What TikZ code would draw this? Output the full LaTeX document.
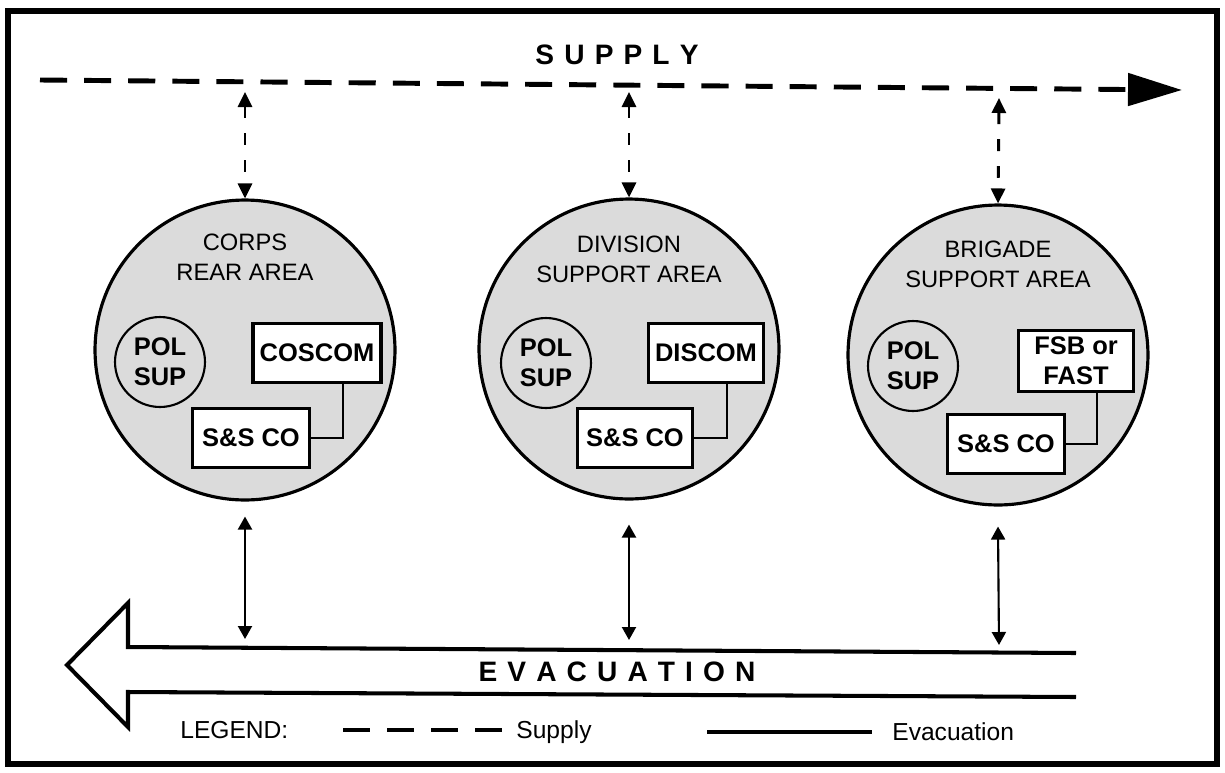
\documentclass[tikz,border=0pt]{standalone}
\usepackage{fontspec}
\setmainfont{Liberation Sans}
\usepackage{tikz}
\usetikzlibrary{arrows.meta}

\newcommand{\labfont}{\fontsize{13.5}{17}\selectfont}
\newcommand{\unitfont}{\fontsize{14.5}{17}\selectfont\bfseries}
\newcommand{\bannerfont}{\fontsize{16}{19}\selectfont\bfseries}
\newcommand{\legfont}{\fontsize{14}{17}\selectfont}
\newcommand{\gp}{\kern0.36em}

\begin{document}
\begin{tikzpicture}[x=0.02cm, y=-0.02cm,
  area/.style={circle, draw, line width=1.8pt, fill=black!14, minimum size=6cm, inner sep=0},
  pol/.style={circle, draw, line width=1.2pt, minimum size=1.8cm, inner sep=0, align=center, font=\unitfont},
  unitbox/.style={rectangle, draw, line width=1.8pt, fill=white, minimum width=2.34cm, minimum height=1.18cm, inner sep=0, align=center, font=\unitfont},
  lab/.style={align=center, inner sep=0, font=\labfont},
  supplink/.style={line width=1.7pt, dash pattern=on 6.8pt off 8.5pt, {Triangle[length=0.3cm,width=0.28cm]}-{Triangle[length=0.3cm,width=0.28cm]}},
  evaclink/.style={line width=1.2pt, {Triangle[length=0.26cm,width=0.28cm]}-{Triangle[length=0.26cm,width=0.28cm]}}]
\useasboundingbox (0,0) rectangle (1225,772);
\draw [line width=3pt] (8,11) rectangle (1217,764);

% supply
\node [inner sep=0, font=\bannerfont] (suptitle) at (617,55) {S\gp U\gp P\gp P\gp L\gp Y};
\coordinate (supstart) at (40,80);
\coordinate (supend) at (1182,90);
\draw [line width=2.8pt, dash pattern=on 15.4pt off 9.7pt, -{Triangle[length=1.08cm,width=0.64cm]}] (supstart) -- (supend);

% corps
\node [area] (corps) at (245,350) {};
\node [lab] (corpslab) at (245,257) {CORPS\\REAR AREA};
\node [pol] (pol1) at (160,362) {POL\\SUP};
\node [unitbox, minimum width=2.56cm] (coscom) at (317,353) {COSCOM};
\node [unitbox] (ss1) at (251,438) {S\&S CO};
\draw [line width=0.7pt] ([xshift=0.52cm]coscom.south) |- (ss1.east);

% division
\node [area] (division) at (629,349) {};
\node [lab] (divlab) at (629,259) {DIVISION\\SUPPORT AREA};
\node [pol] (pol2) at (546,363) {POL\\SUP};
\node [unitbox, minimum width=2.3cm] (discom) at (706,353) {DISCOM};
\node [unitbox, minimum width=2.3cm] (ss2) at (635,438) {S\&S CO};
\draw [line width=0.7pt] ([xshift=0.42cm]discom.south) |- (ss2.east);

% brigade
\node [area] (brigade) at (998,355) {};
\node [lab] (brigadelab) at (998,264) {BRIGADE\\SUPPORT AREA};
\node [pol] (pol3) at (913,366) {POL\\SUP};
\node [unitbox, minimum width=2.3cm, minimum height=1.22cm] (fsb) at (1076,361) {FSB or\\FAST};
\node [unitbox] (ss3) at (1006,444) {S\&S CO};
\draw [line width=0.7pt] ([xshift=0.42cm]fsb.south) |- (ss3.east);

% links to supply
\coordinate (s1) at (245,92);
\coordinate (s2) at (629,92);
\coordinate (s3) at (999,98);
\draw [supplink] (s1) -- (corps.north);
\draw [supplink] (s2) -- (division.north);
\draw [supplink] (s3) -- (brigade.north);

% evacuation
\draw [line width=2.3pt, line join=miter] (1076,653) -- (128,647) -- (128,603) -- (67,665) -- (128,727) -- (128,692) -- (1076,697);
\node [inner sep=0, font=\bannerfont] (evactitle) at (617,672) {E\gp V\gp A\gp C\gp U\gp A\gp T\gp I\gp O\gp N};
\coordinate (e1) at (245,639);
\coordinate (e2) at (629,640);
\coordinate (e3) at (999,645);
\draw [evaclink] ([yshift=-0.3cm]corps.south) -- (e1);
\draw [evaclink] ([yshift=-0.48cm]division.south) -- (e2);
\draw [evaclink] ([yshift=-0.4cm]brigade.south) -- (e3);

% legend
\node [anchor=base west, inner sep=0, font=\legfont] (legend) at (180,738) {LEGEND:};
\draw [line width=2.8pt, dash pattern=on 15.4pt off 9.7pt] (343,730) -- (504,730);
\node [anchor=base west, inner sep=0, font=\legfont] (legsup) at (516,738) {Supply};
\draw [line width=2.8pt] (707,732) -- (872,732);
\node [anchor=base west, inner sep=0, font=\legfont] (legevac) at (892,740) {Evacuation};
\end{tikzpicture}
\end{document}
